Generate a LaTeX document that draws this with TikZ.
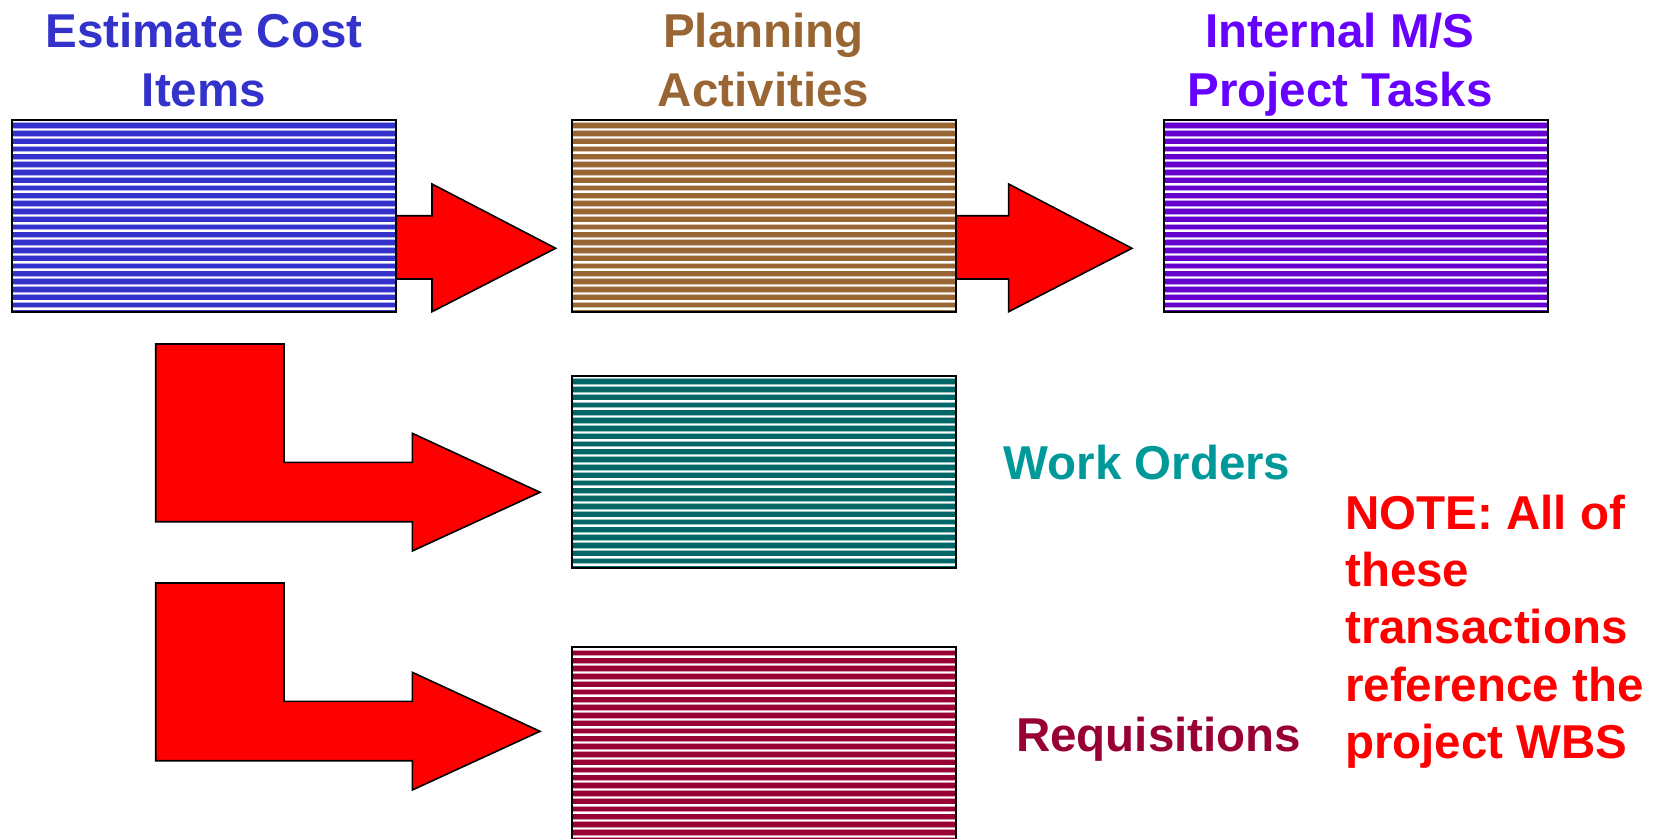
\documentclass[tikz,border=0pt]{standalone}
\usepackage{fontspec}
\setmainfont{Liberation Sans}
\usetikzlibrary{calc}
\definecolor{cblue}{HTML}{3333CC}
\definecolor{cbrown}{HTML}{996633}
\definecolor{cpurple}{HTML}{6600FF}
\definecolor{cpurplestripe}{HTML}{6600CC}
\definecolor{cteal}{HTML}{009999}
\definecolor{ctealstripe}{HTML}{006666}
\definecolor{cmaroon}{HTML}{990033}
\definecolor{cred}{HTML}{FF0000}
\tikzset{
  stripes/.style={path picture={
    \foreach \k in {0,...,27}{
      \fill[#1!40] ([yshift={-2.8-\k*7.8}]path picture bounding box.north west) rectangle ([yshift={-9.2-\k*7.8}]path picture bounding box.north east);
      \fill[#1] ([yshift={-3.6-\k*7.8}]path picture bounding box.north west) rectangle ([yshift={-8.4-\k*7.8}]path picture bounding box.north east);
    }}},
  stripebox/.style={draw=black, line width=2pt, fill=white, stripes=#1,
    minimum width=384.5pt, minimum height=192.5pt, inner sep=0pt, outer sep=0pt, anchor=north west},
  blockarrow/.style={draw=black, line width=1.6pt, fill=cred, line join=miter},
  lbl/.style={font=\fontsize{47.5}{56}\selectfont\bfseries, inner sep=0pt},
}
\begin{document}
\begin{tikzpicture}[x=1pt,y=-1pt]
\fill[white] (0,0) rectangle (1656,838);
\useasboundingbox (0,0) rectangle (1656,838);
\clip (0,0) rectangle (1656,838);

% titles
\node[lbl, text=cblue, anchor=base] (t1a) at (204,47) {Estimate Cost};
\node[lbl, text=cblue, anchor=base] (t1b) at (204,106.5) {Items};
\node[lbl, text=cbrown, anchor=base] (t2a) at (763.5,47) {Planning};
\node[lbl, text=cbrown, anchor=base] (t2b) at (763.5,106.5) {Activities};
\node[lbl, text=cpurple, anchor=base] (t3a) at (1340,47) {Internal M/S};
\node[lbl, text=cpurple, anchor=base] (t3b) at (1340,106.5) {Project Tasks};

% block arrows (drawn under the boxes)
\draw[blockarrow] (390,215.7) -- (432,215.7) -- (432,184) -- (555.7,248.3) -- (432,311.7) -- (432,279) -- (390,279) -- cycle;
\draw[blockarrow] (950,215.7) -- (1008.6,215.7) -- (1008.6,184) -- (1132,248.3) -- (1008.6,311.7) -- (1008.6,279) -- (950,279) -- cycle;

% boxes
\node[stripebox=cblue] (est) at (11.6,119.5) {};
\node[stripebox=cbrown] (plan) at (571.5,119.5) {};
\node[stripebox=cpurplestripe] (ms) at (1163.5,119.5) {};
\node[stripebox=ctealstripe] (wo) at (571.5,375.5) {};
\node[stripebox=cmaroon, minimum height=210pt] (req) at (571.5,647) {};

% L-shaped arrows
\draw[blockarrow] (155.7,344) -- (284,344) -- (284,462.3) -- (412.3,462.3) -- (412.3,433.3) -- (540,492.3) -- (412.3,551) -- (412.3,521.7) -- (155.7,521.7) -- cycle;
\draw[blockarrow] (155.7,583) -- (284,583) -- (284,701.3) -- (412.3,701.3) -- (412.3,672.3) -- (540,731.3) -- (412.3,790) -- (412.3,760.7) -- (155.7,760.7) -- cycle;

% side labels
\node[lbl, text=cteal, anchor=base west] (wolbl) at (1003.3,479) {Work Orders};
\node[lbl, text=cmaroon, anchor=base west] (reqlbl) at (1016,751) {Requisitions};

% note
\node[lbl, text=cred, anchor=base west] (n1) at (1345,529) {NOTE: All of};
\node[lbl, text=cred, anchor=base west] (n2) at (1345,586) {these};
\node[lbl, text=cred, anchor=base west] (n3) at (1345,643.5) {transactions};
\node[lbl, text=cred, anchor=base west] (n4) at (1345,701) {reference the};
\node[lbl, text=cred, anchor=base west] (n5) at (1345,758.5) {project WBS};
\end{tikzpicture}
\end{document}
